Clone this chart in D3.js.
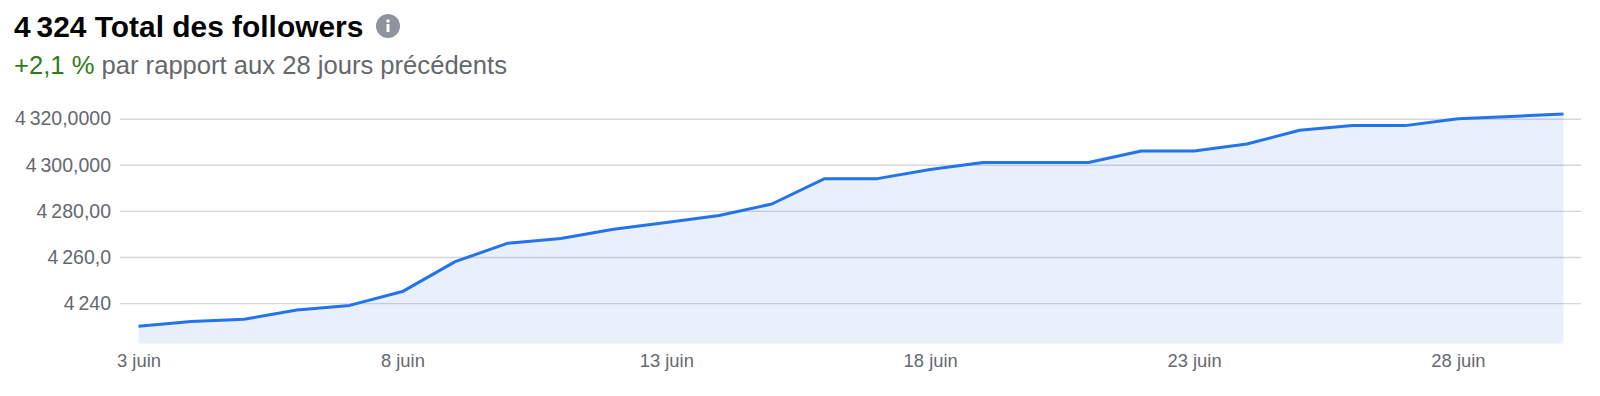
<!DOCTYPE html>
<html><head><meta charset="utf-8">
<script src="https://cdn.jsdelivr.net/npm/d3@7"></script>
<style>html,body{margin:0;padding:0;background:#fff;overflow:hidden}svg{display:block;font-family:"Liberation Sans",Arial,sans-serif}</style>
</head><body><svg id="c" width="1600" height="396"></svg>
<script>
const days=[3,4,5,6,7,8,9,10,11,12,13,14,15,16,17,18,19,20,21,22,23,24,25,26,27,28,29,30];
const followers=[4230,4232,4233,4237,4239,4245,4258,4266,4268,4272,4275,4278,4283,4294,4294,4298,4301,4301,4301,4306,4306,4309,4315,4317,4317,4320,4321,4322];
const yTickValues=[4240,4260,4280,4300,4320];
const yTickLabels=["4\u2009240","4\u2009260,0","4\u2009280,00","4\u2009300,000","4\u2009320,0000"];
const xTickValues=[3,8,13,18,23,28];
const titleText="4\u2009324 Total des followers";
const deltaText="+2,1 %";
const compareText=" par rapport aux 28 jours précédents";

const svg=d3.select("#c");
const x=d3.scaleLinear().domain([3,30]).range([138.5,1563.5]);
const y=d3.scaleLinear().domain([4240,4320]).range([303.1,118.7]);
const bottom=343.5;

const yAxis=d3.axisLeft(y).tickValues(yTickValues).tickFormat((d,i)=>yTickLabels[i]).tickSize(0).tickPadding(9);
const gy=svg.append("g").attr("transform","translate(120,0)").call(yAxis);
gy.select(".domain").remove();
gy.selectAll("text").attr("fill","#65686f").attr("font-size",19.5);
gy.selectAll(".tick").append("line").attr("x1",0).attr("x2",1461).attr("stroke","#d4d6da").attr("stroke-width",1.4);

const xAxis=d3.axisBottom(x).tickValues(xTickValues).tickFormat(d=>d+" juin").tickSize(0).tickPadding(10);
const gx=svg.append("g").attr("transform",`translate(0,${bottom})`).call(xAxis);
gx.select(".domain").remove();
gx.selectAll("text").attr("fill","#65686f").attr("font-size",18.4);

const pts=days.map((d,i)=>[d,followers[i]]);
svg.append("path").attr("d",d3.area().x(d=>x(d[0])).y0(bottom).y1(d=>y(d[1]))(pts)).attr("fill","#2369e1").attr("fill-opacity",0.1);
svg.append("path").attr("d",d3.line().x(d=>x(d[0])).y(d=>y(d[1]))(pts)).attr("fill","none").attr("stroke","#2374ea").attr("stroke-width",3).attr("stroke-linejoin","round");

svg.append("text").attr("x",14).attr("y",37).attr("font-size",29.9).attr("font-weight",700).attr("fill","#050505").text(titleText);
const info=svg.append("g").attr("transform","translate(388,26)");
info.append("circle").attr("r",12).attr("fill","#8d949e");
info.append("circle").attr("cy",-5).attr("r",1.8).attr("fill","#fff");
info.append("rect").attr("x",-1.5).attr("y",-2).attr("width",3).attr("height",8).attr("fill","#fff");
const sub=svg.append("text").attr("x",14).attr("y",74).attr("font-size",25.6);
sub.append("tspan").attr("fill","#2f7d18").text(deltaText);
sub.append("tspan").attr("fill","#65676b").text(compareText);
</script></body></html>
